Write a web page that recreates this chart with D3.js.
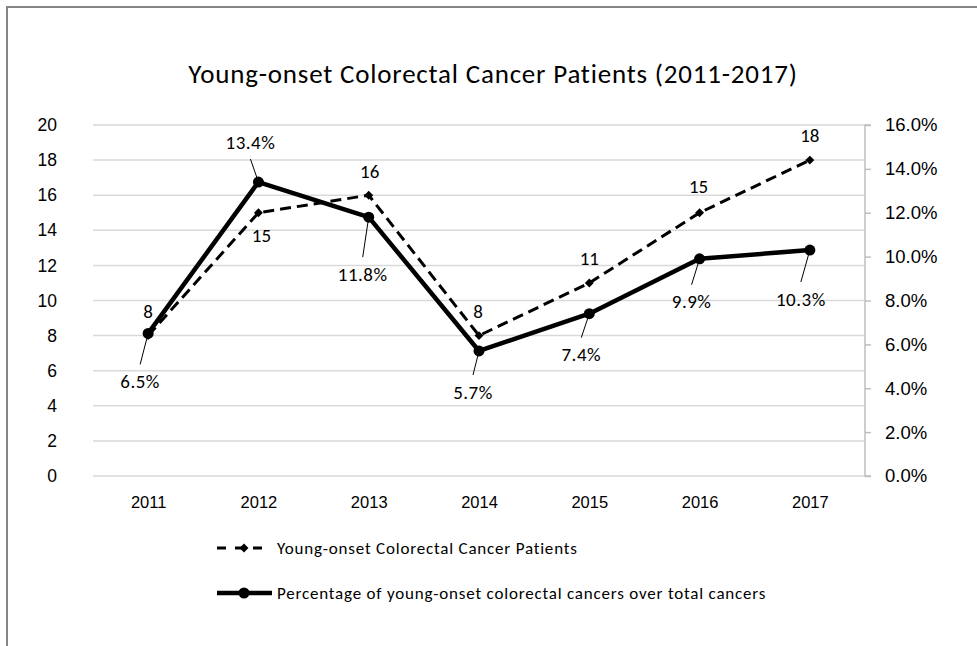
<!DOCTYPE html>
<html>
<head>
<meta charset="utf-8">
<script src="https://cdn.jsdelivr.net/npm/d3@7/dist/d3.min.js"></script>
<style>
  html, body { margin: 0; padding: 0; background: #fff; }
  svg { display: block; font-family: Carlito, Calibri, Lato, "Open Sans", sans-serif; }
</style>
</head>
<body>
<svg id="chart" width="977" height="646"></svg>
<script>
// Data
const years = ["2011", "2012", "2013", "2014", "2015", "2016", "2017"];
const patients = [8, 15, 16, 8, 11, 15, 18];
const percentages = [6.5, 13.4, 11.8, 5.7, 7.4, 9.9, 10.3];
const leftTicks = [0, 2, 4, 6, 8, 10, 12, 14, 16, 18, 20];
const rightTicks = [0, 2, 4, 6, 8, 10, 12, 14, 16];
const titleText = "Young-onset Colorectal Cancer Patients (2011-2017)";
const seriesNames = ["Young-onset Colorectal Cancer Patients",
                     "Percentage of young-onset colorectal cancers over total cancers"];

// Label placement (offsets from each point, in px)
const patientLabelOffset = [[0, -24], [3, 23], [1, -24], [-1, -24], [0, -25], [-1, -26], [0, -25]];
const pctLabelOffset = [[-8, 48], [-8, -40], [-6, 57], [-6, 41], [-8, 41], [-8, 43], [-9, 49]];

const svg = d3.select("#chart");
const plot = { left: 93, right: 865, top: 125, bottom: 476 };

const x = d3.scalePoint().domain(years).range([plot.left, plot.right]).padding(0.5);
const yL = d3.scaleLinear().domain([0, 20]).range([plot.bottom, plot.top]);
const yR = d3.scaleLinear().domain([0, 16]).range([plot.bottom, plot.top]);

// Outer frame (left and top edges)
svg.append("path")
  .attr("d", "M7,646 L7,7 L977,7")
  .attr("fill", "none").attr("stroke", "#858585").attr("stroke-width", 2);

// Title
svg.append("text")
  .attr("x", 493).attr("y", 83)
  .attr("text-anchor", "middle")
  .attr("font-size", 27)
  .attr("letter-spacing", 0.8)
  .attr("fill", "#000")
  .text(titleText);

// Gridlines
svg.append("g").selectAll("line").data(leftTicks).join("line")
  .attr("x1", plot.left).attr("x2", plot.right)
  .attr("y1", d => yL(d)).attr("y2", d => yL(d))
  .attr("stroke", "#d9d9d9").attr("stroke-width", 1.5);

// Left axis (labels only)
const leftAxis = svg.append("g")
  .attr("transform", `translate(${plot.left},0)`)
  .call(d3.axisLeft(yL).tickValues(leftTicks).tickSize(0).tickPadding(36));
leftAxis.select(".domain").remove();
leftAxis.selectAll("text").attr("font-size", 17.5).attr("fill", "#000")
  .style("font-family", "inherit");

// Right axis
const rightAxis = svg.append("g")
  .attr("transform", `translate(${plot.right},0)`)
  .call(d3.axisRight(yR).tickValues(rightTicks).tickSize(6).tickPadding(14)
    .tickFormat(d => d.toFixed(1) + "%"));
rightAxis.select(".domain").attr("stroke", "#bfbfbf").attr("stroke-width", 1.5)
  .attr("d", `M6,${plot.top}H0V${plot.bottom}H6`);
rightAxis.selectAll(".tick line").attr("stroke", "#bfbfbf").attr("stroke-width", 1.5);
rightAxis.selectAll("text").attr("font-size", 18.5).attr("fill", "#000")
  .style("font-family", "inherit");

// Bottom category labels
const bottomAxis = svg.append("g")
  .attr("transform", `translate(0,${plot.bottom})`)
  .call(d3.axisBottom(x).tickSize(0).tickPadding(20));
bottomAxis.select(".domain").remove();
bottomAxis.selectAll("text").attr("font-size", 16.5).attr("fill", "#000")
  .style("font-family", "inherit");

// Patients series (dashed, left axis)
const linePatients = d3.line().x((d, i) => x(years[i])).y(d => yL(d));
svg.append("path").datum(patients)
  .attr("d", linePatients)
  .attr("fill", "none").attr("stroke", "#000")
  .attr("stroke-width", 3).attr("stroke-dasharray", "11,6");

// diamond marker: a square turned 45 degrees
const diamond = d3.symbol().type(d3.symbolSquare).size(40);
svg.append("g").selectAll("path").data(patients).join("path")
  .attr("d", diamond)
  .attr("transform", (d, i) => `translate(${x(years[i])},${yL(d)}) rotate(45)`)
  .attr("fill", "#000");

// Percentage series (solid, right axis)
const linePct = d3.line().x((d, i) => x(years[i])).y(d => yR(d));
svg.append("path").datum(percentages)
  .attr("d", linePct)
  .attr("fill", "none").attr("stroke", "#000")
  .attr("stroke-width", 4.5).attr("stroke-linejoin", "round");

svg.append("g").selectAll("circle").data(percentages).join("circle")
  .attr("cx", (d, i) => x(years[i]))
  .attr("cy", d => yR(d))
  .attr("r", 5.5).attr("fill", "#000");

// Patient value labels
svg.append("g").selectAll("text").data(patients).join("text")
  .attr("x", (d, i) => x(years[i]) + patientLabelOffset[i][0])
  .attr("y", (d, i) => yL(d) + patientLabelOffset[i][1])
  .attr("dy", "0.35em")
  .attr("text-anchor", "middle")
  .attr("font-size", 19).attr("fill", "#000")
  .text(d => d);

// Percentage value labels with leader lines
const pctLabels = svg.append("g");
percentages.forEach((d, i) => {
  const px = x(years[i]), py = yR(d);
  const lx = px + pctLabelOffset[i][0];
  const ly = py + pctLabelOffset[i][1];
  const sign = pctLabelOffset[i][1] > 0 ? 1 : -1;
  pctLabels.append("line")
    .attr("x1", px).attr("y1", py)
    .attr("x2", lx).attr("y2", ly - sign * 17)
    .attr("stroke", "#000").attr("stroke-width", 1);
  pctLabels.append("text")
    .attr("x", lx).attr("y", ly).attr("dy", "0.35em")
    .attr("text-anchor", "middle")
    .attr("font-size", 19).attr("letter-spacing", 0.5).attr("fill", "#000")
    .text(d.toFixed(1) + "%");
});

// Legend
const legend = svg.append("g");
const legendRows = [548, 593];
// dashed entry
legend.append("line")
  .attr("x1", 217).attr("x2", 271).attr("y1", legendRows[0]).attr("y2", legendRows[0])
  .attr("stroke", "#000").attr("stroke-width", 3).attr("stroke-dasharray", "9,9");
legend.append("path").attr("d", diamond)
  .attr("transform", `translate(244,${legendRows[0]}) rotate(45)`).attr("fill", "#000");
// solid entry
legend.append("line")
  .attr("x1", 217).attr("x2", 272).attr("y1", legendRows[1]).attr("y2", legendRows[1])
  .attr("stroke", "#000").attr("stroke-width", 4.5);
legend.append("circle").attr("cx", 244).attr("cy", legendRows[1]).attr("r", 5.5).attr("fill", "#000");

legend.selectAll("text").data(seriesNames).join("text")
  .attr("x", 277).attr("y", (d, i) => legendRows[i]).attr("dy", "0.35em")
  .attr("font-size", 17).attr("letter-spacing", 0.8).attr("fill", "#000")
  .text(d => d);
</script>
</body>
</html>
